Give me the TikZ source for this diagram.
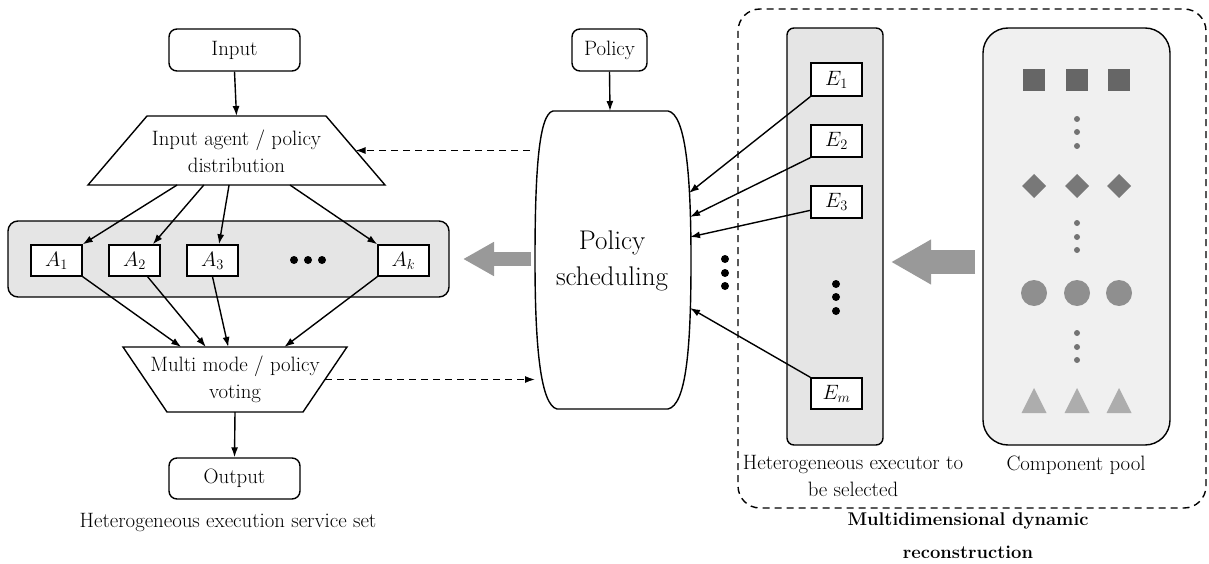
\documentclass[tikz,border=0pt]{standalone}
\usepackage{tikz}
\usetikzlibrary{calc}
\usetikzlibrary{arrows.meta}
\definecolor[named]{PanelGray}{gray}{0.90}
\definecolor[named]{PoolGray}{gray}{0.94}
\definecolor[named]{FatGray}{gray}{0.60}
\definecolor[named]{SquareGray}{gray}{0.40}
\definecolor[named]{DiamondGray}{gray}{0.47}
\definecolor[named]{CircleGray}{gray}{0.56}
\definecolor[named]{TriGray}{gray}{0.68}
\definecolor[named]{DotGray}{gray}{0.45}
\newcommand{\txt}{\fontsize{20.8}{27}\selectfont}
\newcommand{\bigtxt}{\fontsize{27}{36}\selectfont}
\newcommand{\tip}{-{Latex[length=10pt,width=7pt]}}

\begin{document}
\begin{tikzpicture}[x=1pt,y=-1pt,line width=1.4pt,font=\txt]
    \useasboundingbox (0,0) rectangle (1209,564);

    % Multidimensional dynamic reconstruction frame
    \draw[dash pattern=on 7pt off 5pt,rounded corners=22pt] (738,9) rectangle (1206,508);

    % Panels
    \begin{scope}[every node/.style={draw,inner sep=0pt}]
      \node[fill=PanelGray,rounded corners=10pt,minimum width=441pt,minimum height=76pt] (AP) at (228.5,259) {};
      \node[fill=PanelGray,rounded corners=7pt,minimum width=96pt,minimum height=417pt] (EP) at (835,236.5) {};
      \node[fill=PoolGray,rounded corners=25pt,minimum width=187pt,minimum height=417pt] (CP) at (1076.5,236.5) {};
    \end{scope}

    % Terminals
    \begin{scope}[every node/.style={draw,fill=white,rounded corners=8pt,minimum height=42pt,inner sep=0pt}]
      \node[minimum width=131pt] (In) at (234.5,50) {Input};
      \node[minimum width=75pt] (Po) at (609.5,50) {Policy};
      \node[minimum width=131pt,minimum height=41pt] (Out) at (234.5,478.5) {Output};
    \end{scope}

    % Agents and executors
    \begin{scope}[every node/.style={draw,fill=white,minimum width=51pt,minimum height=31pt,inner sep=0pt}]
      \node (A1) at (56.5,260.5) {$A_1$};
      \node (A2) at (134.5,260.5) {$A_2$};
      \node (A3) at (212.5,260.5) {$A_3$};
      \node (Ak) at (403.5,260.5) {$A_k$};
      \node[minimum height=33pt] (E1) at (836.5,79.5) {$E_1$};
      \node[minimum height=32pt] (E2) at (836.5,141) {$E_2$};
      \node[minimum height=32pt] (E3) at (836.5,202) {$E_3$};
      \node[minimum height=31pt] (Em) at (836.5,393.5) {$E_m$};
    \end{scope}

    % Distribution and voting
    \coordinate (IAtl) at (147,116);
    \coordinate (IAtr) at (326,116);
    \coordinate (IAbr) at (385,185);
    \coordinate (IAbl) at (88,185);
    \draw[fill=white] (IAtl) -- (IAtr) -- (IAbr) -- (IAbl) -- cycle;
    \node[align=center] (IA) at (236.5,151) {Input agent / policy\\distribution};

    \coordinate (MMtl) at (123,347);
    \coordinate (MMtr) at (347,347);
    \coordinate (MMbr) at (303,412);
    \coordinate (MMbl) at (167,412);
    \draw[fill=white] (MMtl) -- (MMtr) -- (MMbr) -- (MMbl) -- cycle;
    \node[align=center] (MM) at (235,379.5) {Multi mode / policy\\voting};

    % Policy scheduling barrel
    \draw (553,111) -- (668,111)
      .. controls (685,114) and (691,170) .. (691,260)
      .. controls (691,350) and (686,405) .. (668,409) -- (557,409)
      .. controls (541,405) and (535,350) .. (535,260)
      .. controls (535,170) and (539,114) .. (553,111) -- cycle;
    \node[align=center,font=\bigtxt] (PS) at (612,261) {Policy\\scheduling};
    \coordinate (PStop) at (610,111);
    \coordinate (PSe1) at (689,193);
    \coordinate (PSe2) at (690,217);
    \coordinate (PSe3) at (690,237);
    \coordinate (PSe4) at (690,308);
    \coordinate (PSw1) at (530,150.5);
    \coordinate (PSw2) at (535,379.5);

    % Dots
    \foreach \x in {294,308,322} \fill (\x,260) circle (4pt);
    \foreach \y in {259,273,286} \fill (725,\y) circle (4pt);
    \foreach \y in {284,297,311} \fill (836,\y) circle (4pt);

    % Component pool contents
    \foreach \x in {1034,1077,1119} {
      \fill[SquareGray] (\x-11,69) rectangle (\x+11,91);
      \fill[DiamondGray] (\x,174) -- (\x+12,186) -- (\x,198) -- (\x-12,186) -- cycle;
      \fill[CircleGray] (\x,293) circle (13pt);
      \fill[TriGray] (\x,388) -- (\x+12.5,413) -- (\x-12.5,413) -- cycle;
    }
    \foreach \y in {119,132,146,223,237,250,333,347,360}
      \fill[DotGray] (1077,\y) circle (3pt);

    % Connectors
    \draw[\tip] (In.south) -- ($(IAtl)!0.5!(IAtr)$);
    \draw[\tip] (Po.south) -- (PStop);
    \draw[\tip] ($(IAbl)!0.30!(IAbr)$) -- (A1.north east);
    \draw[\tip] ($(IAbl)!0.39!(IAbr)$) -- ($(A2.north)!0.7!(A2.north east)$);
    \draw[\tip] ($(IAbl)!0.475!(IAbr)$) -- ($(A3.north)!0.25!(A3.north east)$);
    \draw[\tip] ($(IAbl)!0.68!(IAbr)$) -- (Ak.north west);
    \draw[\tip] (A1.south east) -- ($(MMtl)!0.26!(MMtr)$);
    \draw[\tip] ($(A2.south)!0.5!(A2.south east)$) -- ($(MMtl)!0.37!(MMtr)$);
    \draw[\tip] (A3.south) -- ($(MMtl)!0.47!(MMtr)$);
    \draw[\tip] (Ak.south west) -- ($(MMtl)!0.72!(MMtr)$);
    \draw[\tip] ($(MMbl)!0.5!(MMbr)$) -- (Out.north);
    \draw[\tip] (E1.south west) -- (PSe1);
    \draw[\tip] (E2.south west) -- (PSe2);
    \draw[\tip] ($(E3.west)!0.5!(E3.south west)$) -- (PSe3);
    \draw[\tip] (Em.north west) -- (PSe4);
    \draw[\tip,dash pattern=on 7pt off 5pt] (PSw1) -- ($(IAtr)!0.5!(IAbr)$);
    \draw[\tip,dash pattern=on 7pt off 5pt] ($(MMtr)!0.5!(MMbr)$) -- (PSw2);

    % Fat arrows
    \coordinate (FA1s) at (531,259);
    \coordinate (FA1e) at (463,259);
    \coordinate (FA2s) at (975,262);
    \coordinate (FA2e) at (891,262);
    \draw[FatGray,line width=14pt,-{Triangle[length=31pt,width=32pt]}] (FA1s) -- (FA1e);
    \draw[FatGray,line width=24pt,-{Triangle[length=40pt,width=42pt]}] (FA2s) -- (FA2e);

    % Captions
    \node (capA) at (228,523) {Heterogeneous execution service set};
    \node[align=center] (capE) at (853,475.5) {Heterogeneous executor to\\be selected};
    \node (capP) at (1076,465) {Component pool};
    \node[align=center,font=\fontsize{18.4}{27}\selectfont\bfseries] (capM) at (968,535.5) {Multidimensional dynamic\\[6pt]reconstruction};

\end{tikzpicture}
\end{document}
